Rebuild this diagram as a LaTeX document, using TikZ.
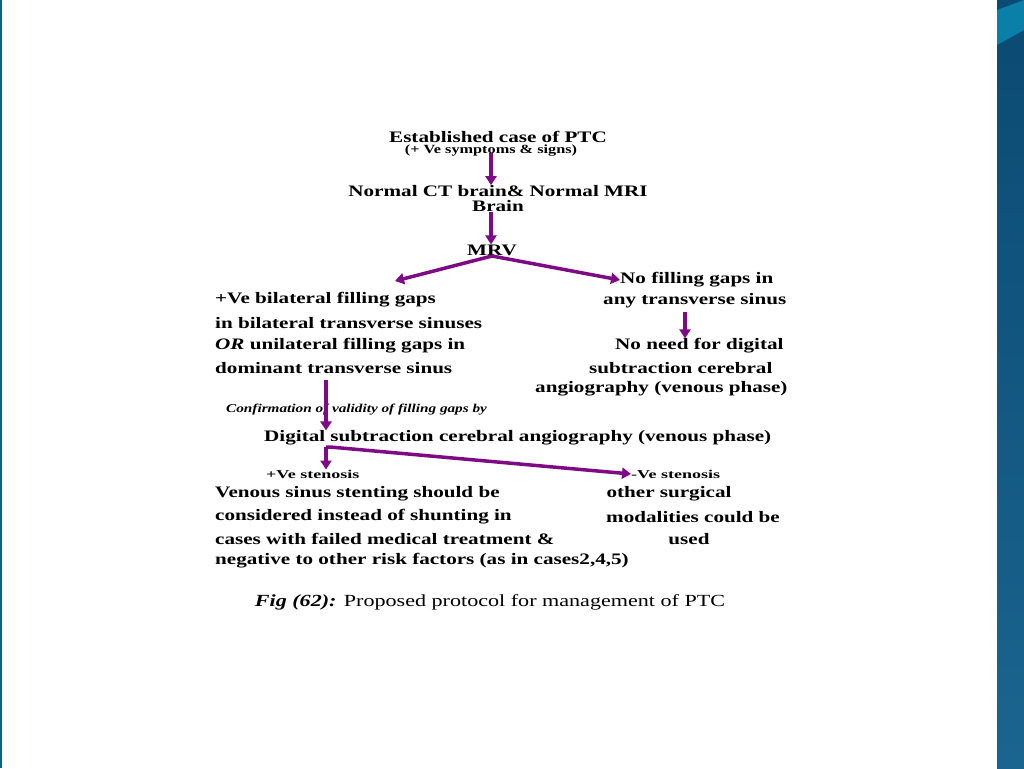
\documentclass[tikz,border=0pt]{standalone}
\usepackage{fontspec}
\setmainfont{Liberation Serif}
\newfontfamily\wide{Liberation Serif}[FakeStretch=1.32]
\newfontfamily\wider{Liberation Serif}[FakeStretch=1.5]
\newfontfamily\widei{Liberation Serif}[FakeStretch=1.27]
\newfontfamily\widec{Liberation Serif}[FakeStretch=1.3]
\usetikzlibrary{arrows.meta}
\definecolor{pur}{HTML}{7E0A86}
\definecolor{barA}{HTML}{0B4A72}
\definecolor{barB}{HTML}{1A6590}
\definecolor{teal}{HTML}{0A7FA8}
\tikzset{
 t/.style={inner sep=0pt,font=\wide\fontsize{16}{17}\selectfont\bfseries},
 ts/.style={inner sep=0pt,font=\wider\fontsize{12}{13}\selectfont\bfseries},
 ar/.style={draw=pur,line width=3.5pt,-{Triangle[length=9pt,width=11pt]}},
 ln/.style={draw=pur,line width=3.5pt}
}
\begin{document}
\begin{tikzpicture}[x=1pt,y=-1pt]
\useasboundingbox (0,0) rectangle (1024,768);
\fill[white] (0,0) rectangle (1024,768);
\shade[top color=barA,bottom color=barB] (997,0) rectangle (1024,768);
\fill[teal] (997,10) -- (1024,0) -- (1024,30) -- (997,45) -- cycle;
\fill[teal!80!black] (0,0) rectangle (1.5,768);
\node[t] (a1) at (498,137) {Established case of PTC};
\node[inner sep=0pt,font=\widec\fontsize{12.5}{13}\selectfont\bfseries] (a2) at (491,151) {(+ Ve symptoms \& signs)};
\node[t] (b1) at (498,191) {Normal CT brain\& Normal MRI};
\node[t] (b2) at (498,206) {Brain};
\node[t] (m) at (492,250) {MRV};
\node[t,anchor=west] (r1) at (620,280) {No filling gaps in};
\node[t,anchor=west] (r2) at (603,301) {any transverse sinus};
\node[t,anchor=west] (r3) at (615,346) {No need for digital};
\node[t,anchor=west] (r4) at (589,368) {subtraction cerebral};
\node[t,anchor=west] (r5) at (535,389) {angiography (venous phase)};
\node[t,anchor=west] (l1) at (215,300) {+Ve bilateral filling gaps};
\node[t,anchor=west] (l2) at (215,323) {in bilateral transverse sinuses};
\node[t,anchor=west] (l3) at (215,346) {\textit{OR} unilateral filling gaps in};
\node[t,anchor=west] (l4) at (215,368) {dominant transverse sinus};
\node[inner sep=0pt,anchor=west,font=\widei\fontsize{12}{13}\selectfont\bfseries\itshape] (c) at (226,410) {Confirmation of validity of filling gaps by};
\node[t,anchor=west] (d) at (264,438) {Digital subtraction cerebral angiography (venous phase)};
\node[ts,anchor=west] (p) at (266,474) {+Ve stenosis};
\node[ts,anchor=west] (n) at (631,474) {-Ve stenosis};
\node[t,anchor=west] (p1) at (215,494) {Venous sinus stenting should be};
\node[t,anchor=west] (p2) at (215,517) {considered instead of shunting in};
\node[t,anchor=west] (p3) at (215,539) {cases with failed medical treatment \&};
\node[t,anchor=west] (p4) at (215,561) {negative to other risk factors (as in cases2,4,5)};
\node[t] (n1) at (669,494) {other surgical};
\node[t,anchor=west] (n2) at (606,517) {modalities could be};
\node[t] (n3) at (689,539) {used};
\node[inner sep=0pt,font=\widec\fontsize{17}{18}\selectfont] (cap) at (490,602) {\textbf{\textit{Fig (62):}} Proposed protocol for management of PTC};
\coordinate (ms) at (492,256);
\coordinate (ls) at (326,380);
\coordinate (ds) at (326,447);
\path[ar] (491,153) -- (b1.north -| 491,0);
\path[ar] (491,212) -- (m.north -| 491,0);
\path[ar] (ms) -- (395,281);
\path[ar] (ms) -- (r1.west);
\path[ar] (685,312) -- (r3.north -| 685,0);
\path[ar] (ls) -- (d.north -| ls);
\path[ar] (ds) -- (p.north -| ds);
\path[ar] (ds) -- (330,447) -- (n.west);
\end{tikzpicture}
\end{document}
